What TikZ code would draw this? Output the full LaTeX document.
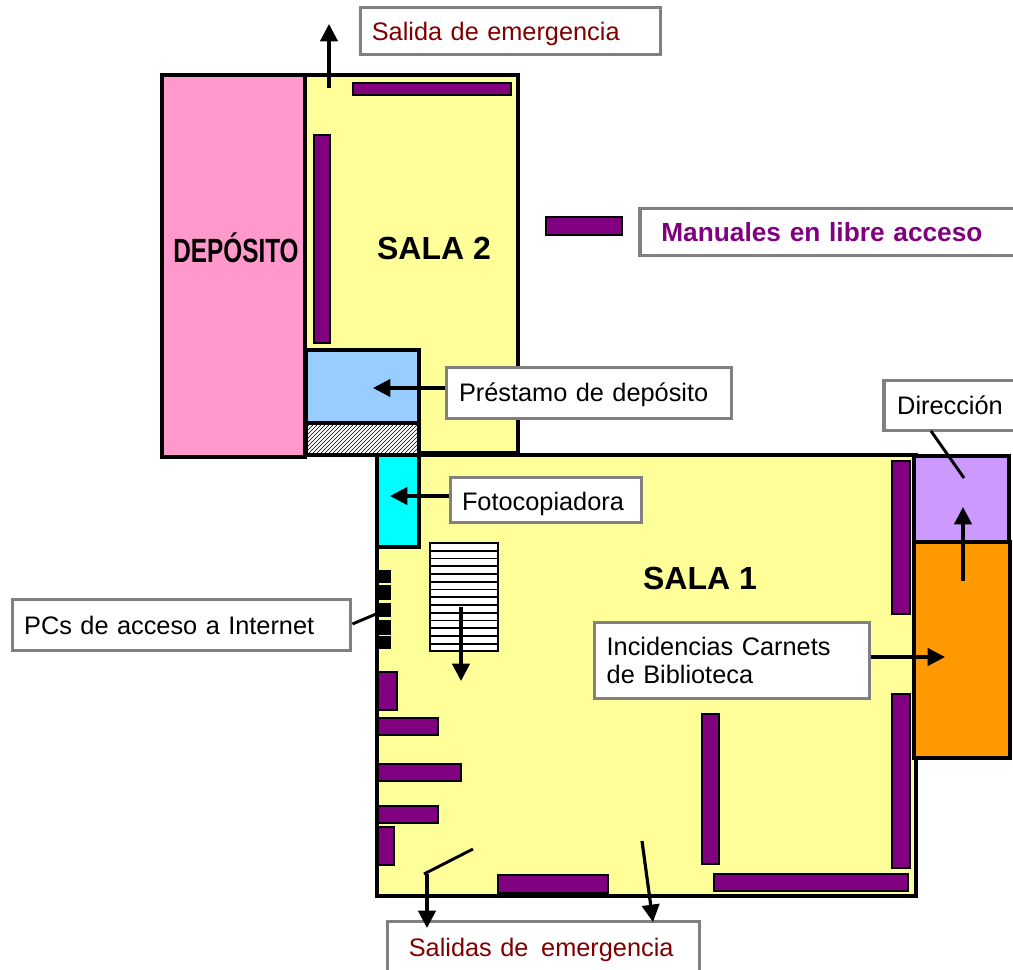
\documentclass[tikz,border=0pt]{standalone}
\usepackage{fontspec}
\setmainfont{Liberation Sans}
\usetikzlibrary{arrows.meta,patterns}
\definecolor{salaYellow}{HTML}{FFFF99}
\definecolor{depPink}{HTML}{FF99CC}
\definecolor{prestBlue}{HTML}{99CCFF}
\definecolor{fotoCyan}{HTML}{00FFFF}
\definecolor{shelfPurple}{HTML}{800080}
\definecolor{dirLilac}{HTML}{CC99FF}
\definecolor{incOrange}{HTML}{FF9900}
\definecolor{tagGray}{HTML}{808080}
\definecolor{exitRed}{HTML}{800000}
\newcommand{\lowered}[2]{\raisebox{-#1}[\height][\depth]{#2}}
\tikzset{
  room/.style={draw=black,line width=2.4pt},
  shelf/.style={draw=black,line width=1.8pt,fill=shelfPurple},
  tag/.style={draw=tagGray,line width=2.4pt,fill=white,inner sep=0pt,align=left,font=\fontsize{19}{21}\selectfont},
  hall/.style={inner sep=0pt,font=\fontsize{24}{28}\selectfont\bfseries},
  pointer/.style={line width=2.4pt,-{Triangle[length=13pt,width=13pt]}},
  leader/.style={line width=2.2pt}
}

\begin{document}
\begin{tikzpicture}[x=0.75pt,y=-0.75pt]
    \useasboundingbox (0,0) rectangle (1013,970);
    \fill[white] (0,0) rectangle (1013,970);

    % rooms
    \path[room,fill=salaYellow] (305,75) rectangle (518,453);
    \path[room,fill=depPink] (162,75) rectangle (305,457);
    \path[room,fill=salaYellow] (377,455) rectangle (916,896);
    \path[room,fill=prestBlue] (306,350) rectangle (419,423);
    \path[room,fill=white] (306,423) rectangle (419,455);
    \path[pattern=north east lines,pattern color=black] (307,425) rectangle (418,454);
    \path[room,fill=fotoCyan] (377,455) rectangle (419,547);
    \path[room,fill=dirLilac] (914,456) rectangle (1009,542);
    \path[room,fill=incOrange] (914,542) rectangle (1010,758);

    % shelves
    \foreach \xa/\ya/\xb/\yb in {353/83/511/95,314/135/330/343,892/461/910/614,892/694/910/868,
        702/714/719/864,714/874/908/891,498/875/608/893,378/672/397/710,378/718/438/735,
        378/764/461/781,378/806/438/823,378/827/394/865,546/217/622/235}
    {
        \path[shelf] (\xa,\ya) rectangle (\xb,\yb);
    };

    % stairs
    \path[draw=black,line width=1.8pt,fill=white] (430,543) rectangle (498,651);
    \foreach \y in {1,...,13}
    {
        \draw[black,line width=1.2pt] (430,543+\y*7.75) -- (498,543+\y*7.75);
    };

    % PCs
    \foreach \ya/\yb in {570/583,585/600,603/617,620/635,636/649}
    {
        \path[fill=black] (378,\ya) rectangle (391,\yb);
    };

    \node[hall,xscale=0.76,yscale=1.05] (deposito) at (236,248) {DEPÓSITO};
    \node[hall] (sala2) at (434,248) {SALA 2};
    \node[hall] (sala1) at (700,578) {SALA 1};

    % labels
    \node[tag,minimum width=225pt,minimum height=35pt,text width=208pt,text=exitRed] (salida) at (510.5,31) {\lowered{2.2pt}{Salida de emergencia}};
    \node[tag,minimum width=282pt,minimum height=35pt,text width=250pt,text=shelfPurple,font=\fontsize{19.7}{24}\selectfont\bfseries] (manuales) at (828,232) {Manuales en libre acceso};
    \node[tag,minimum width=214pt,minimum height=38pt,text width=195pt] (prestamo) at (589,393) {\lowered{1.5pt}{Préstamo de depósito}};
    \node[tag,minimum width=99pt,minimum height=37pt] (direccion) at (950,405.5) {Dirección};
    \node[tag,minimum width=143pt,minimum height=34pt,text width=126pt] (foto) at (546,500) {\lowered{3pt}{Fotocopiadora}};
    \node[tag,minimum width=254pt,minimum height=38pt,text width=236pt] (pcs) at (181.5,625) {PCs de acceso a Internet};
    \node[tag,minimum width=206pt,minimum height=57pt,text width=188pt] (incid) at (732,660.5) {Incidencias Carnets\\de Biblioteca};
    \node[tag,minimum width=234pt,minimum height=40pt,text width=202pt,text=exitRed] (salidas) at (543.5,948) {\lowered{1.5pt}{Salidas de \,emergencia}};

    % pointers
    \coordinate (salidaFrom) at (329,88);
    \coordinate (salidaTo) at (329,24);
    \coordinate (prestTo) at (373,388);
    \coordinate (fotoTo) at (390,496);
    \coordinate (stairFrom) at (461,607);
    \coordinate (stairTo) at (461,681);
    \coordinate (dirTo) at (963,507);
    \coordinate (dirFrom) at (963,581);
    \coordinate (incidTo) at (945,657);
    \coordinate (doorA) at (424,874);
    \coordinate (doorB) at (473,849);
    \coordinate (doorTo) at (427,928);
    \coordinate (doorStart) at (427,874);
    \coordinate (exitFrom) at (642,841);
    \coordinate (exitTo) at (653,922);
    \coordinate (pcsTo) at (376,614);
    \coordinate (dirEnd) at (964,478);
    \coordinate (dirStart) at (931,431);

    \draw[pointer] (salidaFrom) -- (salidaTo);
    \draw[pointer] (prestamo.west |- prestTo) -- (prestTo);
    \draw[pointer] (foto.west |- fotoTo) -- (fotoTo);
    \draw[pointer] (stairFrom) -- (stairTo);
    \draw[pointer] (dirFrom) -- (dirTo);
    \draw[pointer] (incid.east |- incidTo) -- (incidTo);
    \draw[pointer] (doorStart) -- (doorTo);
    \draw[pointer] (exitFrom) -- (exitTo);
    \draw[leader] (doorA) -- (doorB);
    \draw[leader] (pcs.east) ++(0,-1) -- (pcsTo);
    \draw[leader] (dirStart) -- (dirEnd);

\end{tikzpicture}
\end{document}
